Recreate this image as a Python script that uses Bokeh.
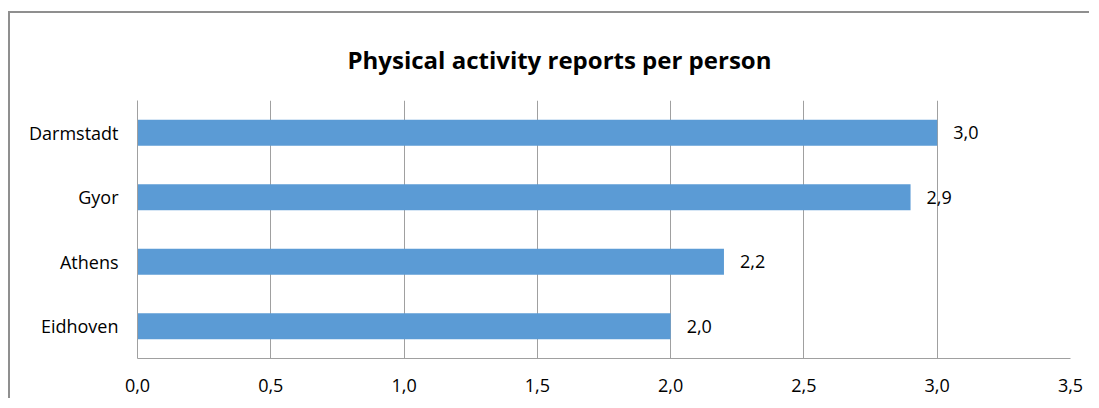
from bokeh.plotting import figure
from bokeh.models import (FactorRange, Range1d, CustomJSTickFormatter, FixedTicker,
                          ColumnDataSource)
from bokeh.core.properties import value
from bokeh.embed import file_html
from bokeh.resources import INLINE

# ---- data ----
cities = ["Darmstadt", "Gyor", "Athens", "Eidhoven"]
reports = [3.0, 2.9, 2.2, 2.0]
x_ticks = [0.0, 0.5, 1.0, 1.5, 2.0, 2.5, 3.0, 3.5]
title_text = "Physical activity reports per person"

FONT = "Open Sans"
labels = [f"{v:.1f}".replace(".", ",") for v in reports]
src = ColumnDataSource(dict(city=cities, val=reports, lab=labels))

p = figure(width=1081, height=387, output_backend="svg", toolbar_location=None,
           y_range=FactorRange(*cities[::-1]), x_range=Range1d(0, 3.5),
           min_border_left=127, min_border_right=21, min_border_top=87,
           min_border_bottom=42)
p.outline_line_color = None
# chart-area border (only left and top edges fall inside the window)
p.styles = {
    "margin-left": "8px",
    "margin-top": "11px",
    "border-left": "2px solid #8f8f8f",
    "border-top": "2px solid #8f8f8f",
}

p.title.text = title_text
p.title.align = "left"
p.title.offset = 210
p.title.text_font = FONT
p.title.text_font_style = "bold"
p.title.text_font_size = "24px"
p.title.text_color = "#000000"
p.title.standoff = 50

p.hbar(y="city", right="val", height=0.4, source=src, color="#5b9bd5", line_color=None)
p.text(x="val", y="city", text="lab", source=src, x_offset=16,
       text_align="left", text_baseline="middle", text_font=value(FONT),
       text_font_size="18px", text_color="#000000")

p.xaxis.ticker = FixedTicker(ticks=x_ticks)
p.xaxis.formatter = CustomJSTickFormatter(code="return tick.toFixed(1).replace('.', ',');")
for ax in (p.xaxis[0], p.yaxis[0]):
    ax.axis_line_color = "#a0a0a0"
    ax.axis_line_width = 1
    ax.major_tick_line_color = None
    ax.minor_tick_line_color = None
    ax.major_label_text_font = FONT
    ax.major_label_text_font_size = "18px"
    ax.major_label_text_color = "#000000"
p.xaxis.major_label_standoff = 14
p.yaxis.major_label_standoff = 13

p.xgrid.grid_line_color = "#a0a0a0"
p.xgrid.ticker = FixedTicker(ticks=x_ticks)
p.ygrid.grid_line_color = None

open("out.html", "w").write(file_html(p, INLINE))
